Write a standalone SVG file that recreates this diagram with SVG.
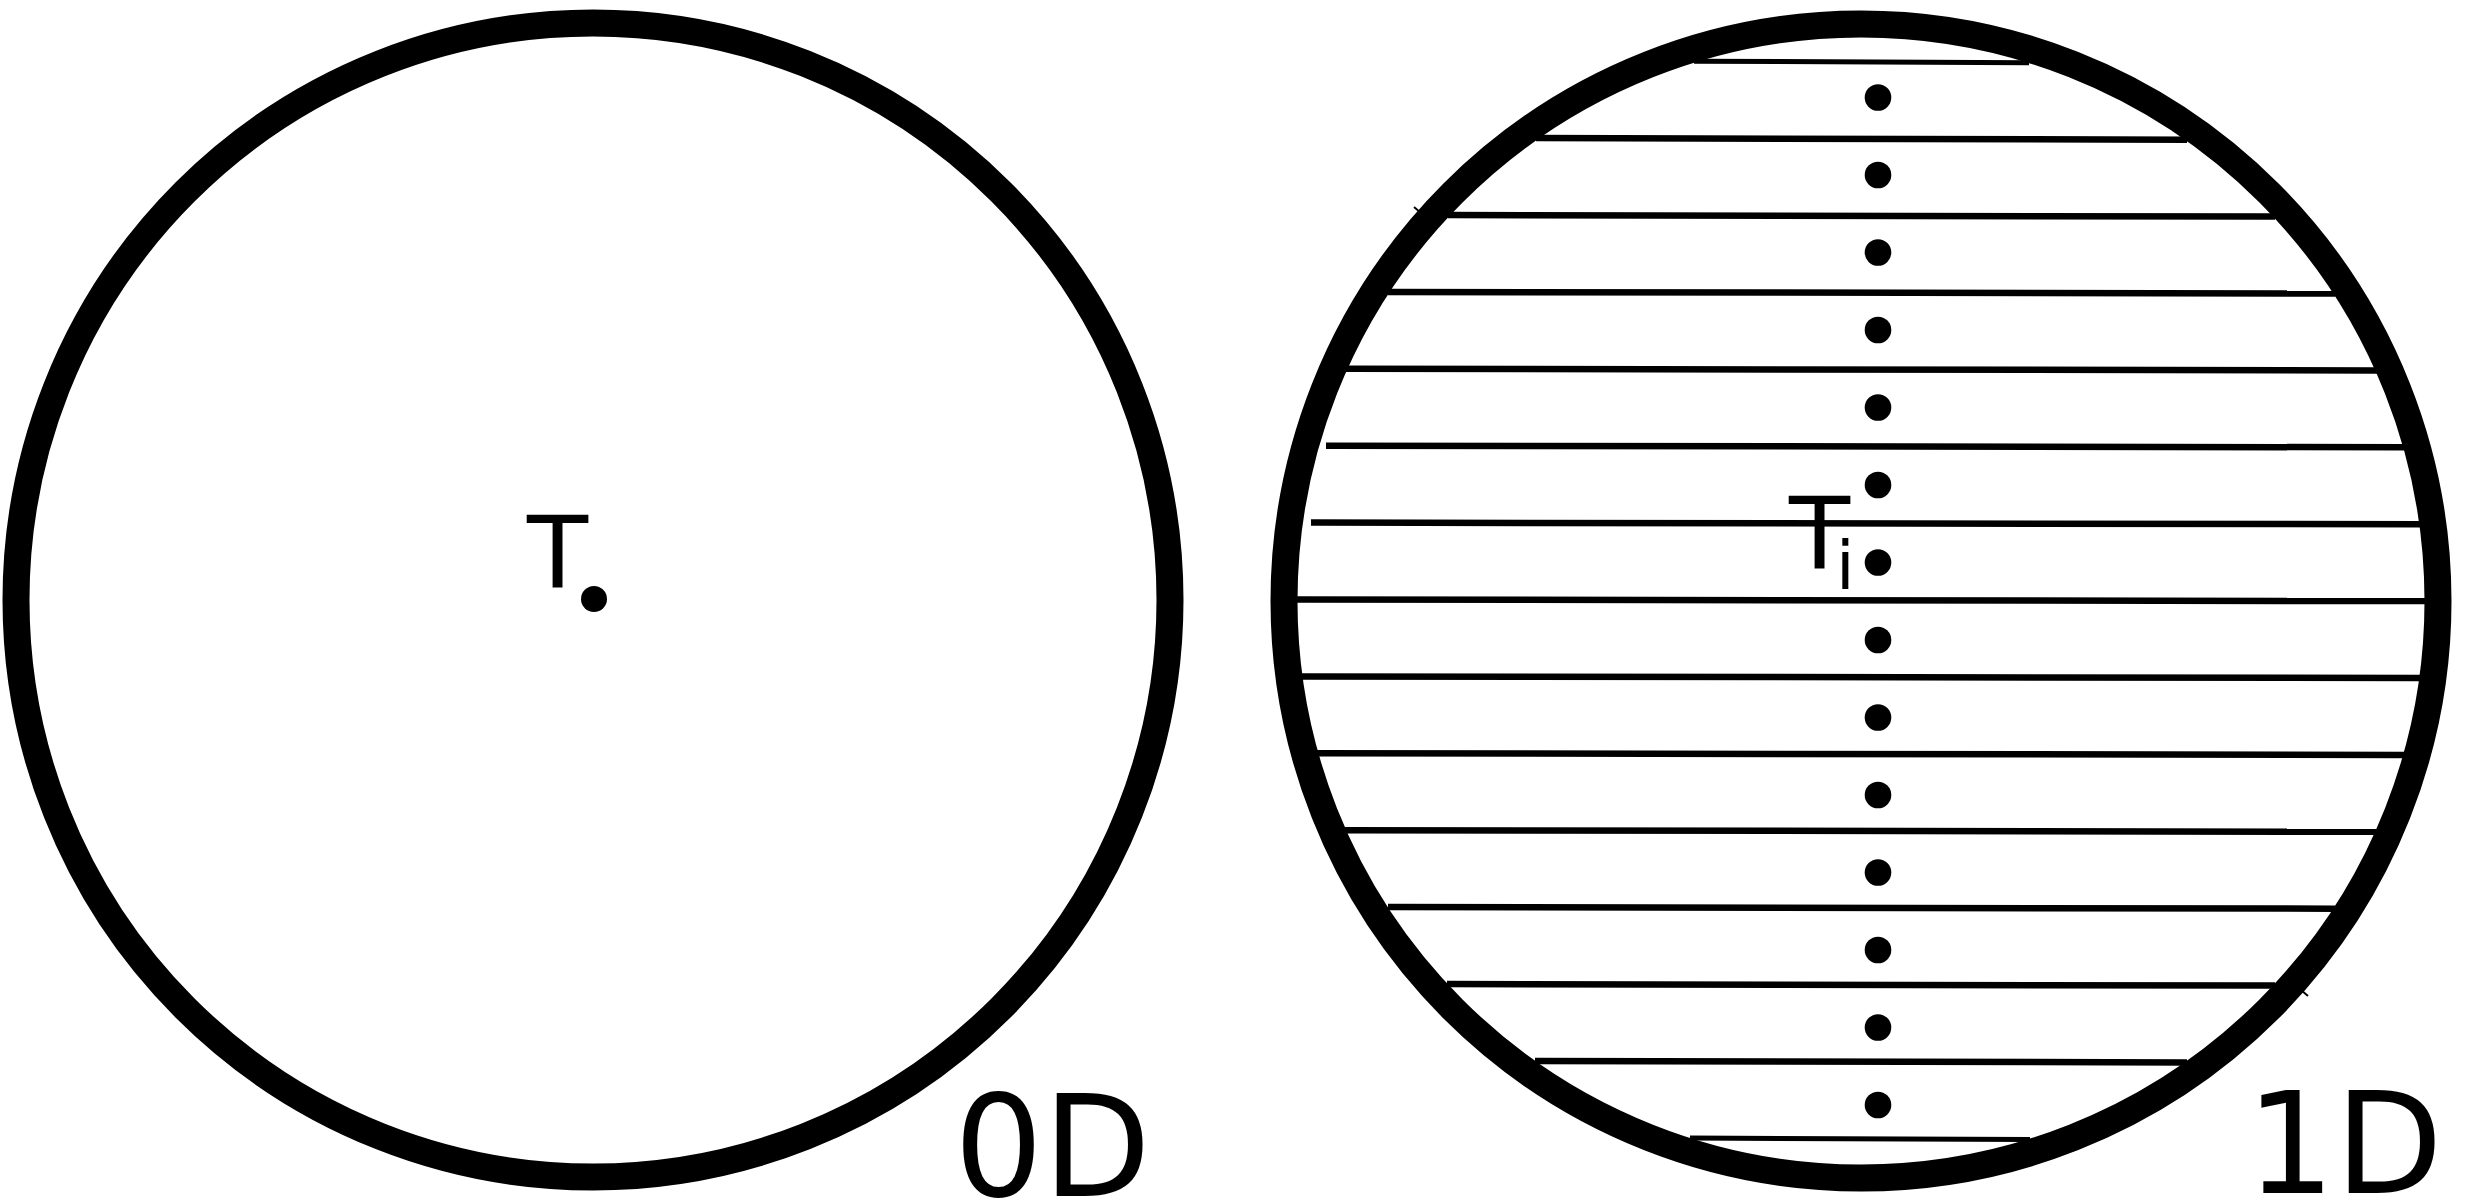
<svg xmlns="http://www.w3.org/2000/svg" width="2465" height="1201" viewBox="0 0 2465 1201">
<style>
.ring{fill:none;stroke:#000;stroke-width:27}
.dot{fill:#000}
.hl{stroke:#000;stroke-width:6.5;fill:none}
.hlt{stroke:#000;stroke-width:5;fill:none}
.lbl{font-family:"DejaVu Sans",sans-serif;fill:#000}
.tick{stroke:#000;stroke-width:2;fill:none}
</style>
<rect width="2465" height="1201" fill="#fff"/>
<g id="node-0d">
  <circle class="ring" cx="593" cy="600" r="577"/>
  <circle class="dot" cx="594" cy="599" r="13"/>
  <text class="lbl" x="527" y="588" font-size="100">T</text>
  <text class="lbl" x="954" y="1196" font-size="140">0D</text>
</g>
<g id="connectors">
  <line class="hlt" x1="1694" y1="61.2" x2="2029" y2="62.8"/>
  <line class="hl" x1="1536" y1="138.1" x2="2187" y2="139.7"/>
  <line class="hl" x1="1448" y1="215" x2="2275" y2="216.6"/>
  <line class="hl" x1="1388" y1="291.9" x2="2335" y2="293.5"/>
  <line class="hl" x1="1345" y1="368.8" x2="2377" y2="370.4"/>
  <line class="hl" x1="1326" y1="445.7" x2="2405" y2="447.3"/>
  <line class="hl" x1="1311" y1="522.6" x2="2421" y2="524.2"/>
  <line class="hl" x1="1295" y1="599.5" x2="2427" y2="601.1"/>
  <line class="hl" x1="1301" y1="676.4" x2="2421" y2="678"/>
  <line class="hl" x1="1317" y1="753.3" x2="2405" y2="754.9"/>
  <line class="hl" x1="1345" y1="830.2" x2="2377" y2="831.8"/>
  <line class="hl" x1="1388" y1="907.1" x2="2335" y2="908.7"/>
  <line class="hl" x1="1447" y1="984" x2="2275" y2="985.6"/>
  <line class="hl" x1="1535" y1="1060.9" x2="2187" y2="1062.5"/>
  <line class="hlt" x1="1690" y1="1138" x2="2030" y2="1139.6"/>
  <line class="tick" x1="1414" y1="207" x2="1421" y2="213"/>
  <line class="tick" x1="2301" y1="990" x2="2308" y2="996"/>
</g>
<g id="node-1d">
  <circle class="ring" cx="1861" cy="601" r="577"/>
  <circle class="dot" cx="1878" cy="97.5" r="13.3"/>
  <circle class="dot" cx="1878" cy="175" r="13.3"/>
  <circle class="dot" cx="1878" cy="252.5" r="13.3"/>
  <circle class="dot" cx="1878" cy="330" r="13.3"/>
  <circle class="dot" cx="1878" cy="407.5" r="13.3"/>
  <circle class="dot" cx="1878" cy="485" r="13.3"/>
  <circle class="dot" cx="1878" cy="562.5" r="13.3"/>
  <circle class="dot" cx="1878" cy="640" r="13.3"/>
  <circle class="dot" cx="1878" cy="717.5" r="13.3"/>
  <circle class="dot" cx="1878" cy="795" r="13.3"/>
  <circle class="dot" cx="1878" cy="872.5" r="13.3"/>
  <circle class="dot" cx="1878" cy="950" r="13.3"/>
  <circle class="dot" cx="1878" cy="1027.5" r="13.3"/>
  <circle class="dot" cx="1878" cy="1105" r="13.3"/>
  <text class="lbl" x="1789" y="569" font-size="100">T<tspan x="1836" y="590" font-size="67">i</tspan></text>
  <text class="lbl" x="2246" y="1193" font-size="140">1D</text>
</g>
</svg>
